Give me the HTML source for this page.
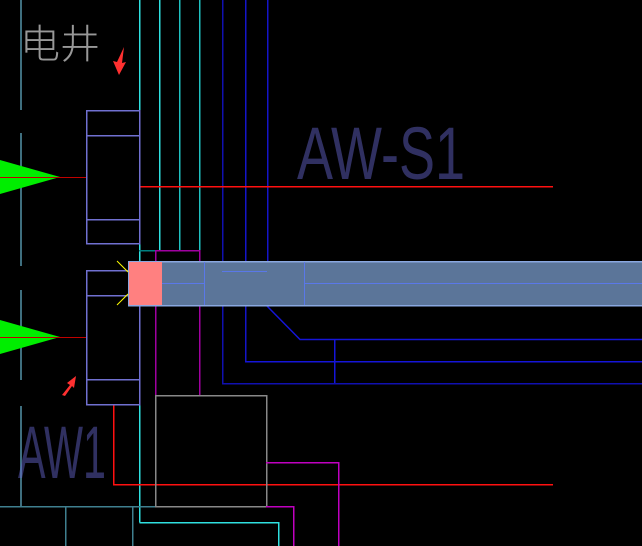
<!DOCTYPE html>
<html><head><meta charset="utf-8"><style>html,body{margin:0;padding:0;background:#000;}svg{display:block}</style></head>
<body>
<svg width="642" height="546" viewBox="0 0 642 546" xmlns="http://www.w3.org/2000/svg" shape-rendering="crispEdges">
<rect width="642" height="546" fill="#000"/>
<g stroke="#3f6f7f" stroke-width="2">
<line x1="21" y1="0" x2="21" y2="110"/><line x1="21" y1="133" x2="21" y2="266"/>
<line x1="21" y1="290" x2="21" y2="380"/><line x1="21" y1="406" x2="21" y2="506"/>
</g>
<g stroke-width="1.5">
<line x1="139.5" y1="0" x2="139.5" y2="522.5" stroke="#2fe0e0"/>
<line x1="159.5" y1="0" x2="159.5" y2="250" stroke="#2fe0e0"/>
<line x1="179.5" y1="0" x2="179.5" y2="250" stroke="#20c0c0"/>
<line x1="199.5" y1="0" x2="199.5" y2="250" stroke="#20c0c0"/>
<line x1="222.5" y1="0" x2="222.5" y2="383.5" stroke="#1010b0"/>
<line x1="245.5" y1="0" x2="245.5" y2="361.5" stroke="#1515c8"/>
<line x1="267.5" y1="0" x2="267.5" y2="306" stroke="#1515c8"/>
</g>
<g stroke="#1515d8" stroke-width="1.5" fill="none">
<line x1="222" y1="383.5" x2="642" y2="383.5" stroke="#1010b0"/>
<line x1="245" y1="361.5" x2="642" y2="361.5"/>
<polyline points="267,306 300,339.5 642,339.5" shape-rendering="auto"/>
<line x1="334.5" y1="339" x2="334.5" y2="383"/>
</g>
<g stroke="#ff1010" stroke-width="1.5">
<line x1="139" y1="186.5" x2="553" y2="186.5"/>
<polyline points="113.5,404 113.5,484.5 553,484.5" fill="none"/>
</g>
<g stroke="#7070d0" stroke-width="1.5" fill="none">
<rect x="86.5" y="110.5" width="53" height="133"/>
<line x1="86" y1="135.5" x2="139" y2="135.5"/><line x1="86" y1="219.5" x2="139" y2="219.5"/>
<rect x="86.5" y="270.5" width="53" height="134"/>
<line x1="86" y1="295.5" x2="139" y2="295.5"/><line x1="86" y1="379.5" x2="139" y2="379.5"/>
</g>
<polygon points="0,160 60,177 0,194" fill="#00ee00" shape-rendering="auto"/>
<polygon points="0,320 60,337 0,354" fill="#00ee00" shape-rendering="auto"/>
<line x1="0" y1="177.5" x2="86" y2="177.5" stroke="#c00000"/>
<line x1="0" y1="337.5" x2="86" y2="337.5" stroke="#c00000"/>
<g stroke="#a000a0" stroke-width="1.5" fill="none">
<polyline points="155.5,395 155.5,250.5 199.5,250.5 199.5,395"/>
</g>
<line x1="139" y1="250.5" x2="155" y2="250.5" stroke="#008080" stroke-width="1.5"/>
<rect x="128.5" y="261.5" width="514" height="44" fill="#5b7599" stroke="#8aa8e0" stroke-width="1.5"/>
<g stroke="#5a78e8" stroke-width="1.3">
<line x1="161" y1="283.5" x2="204" y2="283.5"/><line x1="204.5" y1="262" x2="204.5" y2="305"/>
<line x1="222" y1="271.5" x2="267" y2="271.5"/>
<line x1="304.5" y1="262" x2="304.5" y2="305"/><line x1="304" y1="283.5" x2="642" y2="283.5"/>
</g>
<rect x="129" y="262" width="33" height="43" fill="#ff8080"/>
<g stroke="#ffff00" stroke-width="1" shape-rendering="auto">
<line x1="117" y1="261" x2="128" y2="272"/><line x1="117" y1="305" x2="128" y2="294"/>
</g>
<rect x="155.5" y="395.5" width="111" height="111" fill="none" stroke="#888" stroke-width="1.5"/>
<g stroke="#c000c0" stroke-width="1.5" fill="none">
<polyline points="266,462.5 338.5,462.5 338.5,546"/>
<polyline points="266,506.5 293.5,506.5 293.5,546"/>
</g>
<polyline points="139.5,522.5 278.5,522.5 278.5,546" stroke="#2fe0e0" stroke-width="1.5" fill="none"/>
<g stroke="#3f7f8f" stroke-width="1.5">
<line x1="0" y1="506.5" x2="155" y2="506.5"/>
<line x1="65.5" y1="506" x2="65.5" y2="546"/><line x1="132.5" y1="506" x2="132.5" y2="546"/>
</g>
<polygon points="124,47 122,63 126,62 119,75 113,61 117,62" fill="#ff3030" shape-rendering="auto"/>
<polygon points="62,395 70,385 67,383 76,376 74,388 72,386 65,396" fill="#ff3030" shape-rendering="auto"/>
<text x="297" y="179" font-family="Liberation Sans, sans-serif" font-size="74" fill="#6a6ad8" textLength="168" lengthAdjust="spacingAndGlyphs" fill-opacity="0.45" shape-rendering="auto">AW-S1</text>
<text x="18" y="478" font-family="Liberation Sans, sans-serif" font-size="74" fill="#6a6ad8" textLength="88" lengthAdjust="spacingAndGlyphs" fill-opacity="0.45" shape-rendering="auto">AW1</text>
<text x="20" y="58" font-family="Liberation Sans, 'Noto Sans CJK SC', sans-serif" font-size="40" fill="#d8d8d8" fill-opacity="0.7" font-weight="300" shape-rendering="auto">电井</text>
</svg>
</body></html>
